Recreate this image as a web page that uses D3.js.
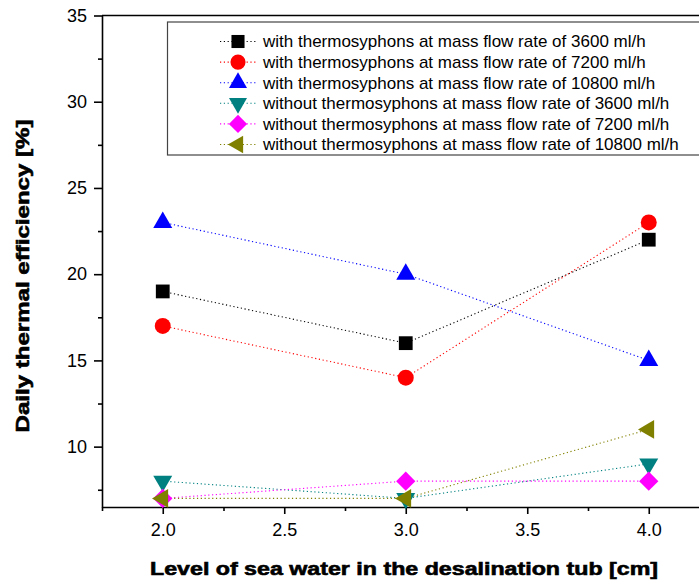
<!DOCTYPE html>
<meta charset="utf-8">
<title>Daily thermal efficiency</title>
<style>
  body { margin: 0; background: #fff; }
  text { font-family: Arial, "Liberation Sans", sans-serif; fill: #000; }
</style>
<svg width="699" height="582"></svg>
<script src="https://d3js.org/d3.v7.min.js"></script>
<script>

  // level of sea water in the tub [cm]
  var levels = [2.0, 3.0, 4.0];

  // daily thermal efficiency [%]
  var with3600 = [19, 16, 22];
  var with7200 = [17, 14, 23];
  var with10800 = [23, 20, 15];
  var without3600 = [8, 7, 9];
  var without7200 = [7, 8, 8];
  var without10800 = [7, 7, 11];

  var seriesNames = [
    "with thermosyphons at mass flow rate of 3600 ml/h",
    "with thermosyphons at mass flow rate of 7200 ml/h",
    "with thermosyphons at mass flow rate of 10800 ml/h",
    "without thermosyphons at mass flow rate of 3600 ml/h",
    "without thermosyphons at mass flow rate of 7200 ml/h",
    "without thermosyphons at mass flow rate of 10800 ml/h"
  ];
  var seriesColors = ["#000000", "#ff0000", "#0000ff", "#008080", "#ff00ff", "#808000"];

  var xTicks = [2.0, 2.5, 3.0, 3.5, 4.0];
  var xMinor = [1.75, 2.25, 2.75, 3.25, 3.75];
  var yTicks = [10, 15, 20, 25, 30, 35];
  var yMinor = [7.5, 12.5, 17.5, 22.5, 27.5, 32.5];

  var allValues = [with3600, with7200, with10800, without3600, without7200, without10800];

  // marker shape per series: symbol, rotation, area
  var shapes = [
    { sym: d3.symbolSquare, rot: 0, size: 190 },
    { sym: d3.symbolCircle, rot: 0, size: 200 },
    { sym: d3.symbolTriangle, rot: 0, size: 156 },
    { sym: d3.symbolTriangle, rot: 180, size: 156 },
    { sym: d3.symbolSquare, rot: 45, size: 185 },
    { sym: d3.symbolTriangle, rot: -90, size: 150 }
  ];

  var series = allValues.map(function(vals, i) {
    return {
      name: seriesNames[i],
      color: seriesColors[i],
      shape: shapes[i],
      points: vals.map(function(v, j) { return { x: levels[j], y: v }; })
    };
  });

  var svg = d3.select("svg");

  var plotLeft = 102, plotRight = 709.5, plotTop = 15.5, plotBottom = 507;

  var x = d3.scaleLinear().domain([1.75, 4.25]).range([plotLeft, plotRight]);
  var y = d3.scaleLinear().domain([6.5, 35]).range([plotBottom, plotTop]);

  // top frame line (right side falls outside the picture)
  svg.append("path")
    .attr("d", "M" + plotLeft + "," + plotTop + "H" + plotRight + "V" + plotBottom)
    .attr("fill", "none")
    .attr("stroke", "#000")
    .attr("stroke-width", 1.6);

  // axes
  svg.append("g")
    .attr("transform", "translate(" + plotLeft + ",0)")
    .call(d3.axisLeft(y).tickValues(yTicks).tickSize(8).tickSizeOuter(0).tickPadding(7).tickFormat(d3.format("d")));
  svg.append("g")
    .attr("transform", "translate(" + plotLeft + ",0)")
    .call(d3.axisLeft(y).tickValues(yMinor).tickSize(4).tickSizeOuter(0).tickFormat(""))
    .select(".domain").remove();

  svg.append("g")
    .attr("transform", "translate(0," + plotBottom + ")")
    .call(d3.axisBottom(x).tickValues(xTicks).tickSize(7).tickSizeOuter(0).tickPadding(9).tickFormat(d3.format(".1f")));
  svg.append("g")
    .attr("transform", "translate(0," + plotBottom + ")")
    .call(d3.axisBottom(x).tickValues(xMinor).tickSize(4).tickSizeOuter(0).tickFormat(""))
    .select(".domain").remove();

  svg.selectAll(".domain, .tick line").attr("stroke", "#000").attr("stroke-width", 1.6);
  svg.selectAll(".tick text")
    .attr("font-family", null)
    .attr("font-size", null)
    .style("font-family", "Arial, 'Liberation Sans', sans-serif")
    .style("font-size", "18px");

  // axis titles (heavy bold, a thin stroke thickens the glyphs)
  svg.append("text")
    .attr("x", 404)
    .attr("y", 575)
    .attr("text-anchor", "middle")
    .attr("textLength", 508)
    .attr("lengthAdjust", "spacingAndGlyphs")
    .attr("stroke", "#000")
    .attr("stroke-width", 0.6)
    .style("font-size", "18px")
    .style("font-weight", "bold")
    .text("Level of sea water in the desalination tub [cm]");

  svg.append("text")
    .attr("transform", "translate(29,276) rotate(-90)")
    .attr("text-anchor", "middle")
    .attr("textLength", 313)
    .attr("lengthAdjust", "spacingAndGlyphs")
    .attr("stroke", "#000")
    .attr("stroke-width", 0.6)
    .style("font-size", "18px")
    .style("font-weight", "bold")
    .text("Daily thermal efficiency [%]");

  // dotted connecting lines
  var line = d3.line()
    .x(function(d) { return x(d.x); })
    .y(function(d) { return y(d.y); });

  svg.append("g").selectAll("path")
    .data(series)
    .enter().append("path")
    .attr("d", function(d) { return line(d.points); })
    .attr("fill", "none")
    .attr("stroke", function(d) { return d.color; })
    .attr("stroke-width", 1.1)
    .attr("stroke-dasharray", "1.2,2.6");

  // markers
  series.forEach(function(s) {
    svg.append("g").selectAll("path")
      .data(s.points)
      .enter().append("path")
      .attr("d", d3.symbol().type(s.shape.sym).size(s.shape.size))
      .attr("transform", function(d) {
        return "translate(" + x(d.x) + "," + y(d.y) + ") rotate(" + s.shape.rot + ")";
      })
      .attr("fill", s.color);
  });

  // legend
  var legend = svg.append("g");
  legend.append("rect")
    .attr("x", 167.5)
    .attr("y", 22)
    .attr("width", 600)
    .attr("height", 133)
    .attr("fill", "#fff")
    .attr("stroke", "#444")
    .attr("stroke-width", 1.2);

  var rows = legend.selectAll("g.row")
    .data(series)
    .enter().append("g")
    .attr("class", "row")
    .attr("transform", function(d, i) { return "translate(0," + (41.5 + i * 20.6) + ")"; });

  rows.append("line")
    .attr("x1", 220).attr("x2", 258)
    .attr("stroke", function(d) { return d.color; })
    .attr("stroke-width", 1.1)
    .attr("stroke-dasharray", "1.2,2.6");

  rows.append("path")
    .attr("d", function(d) { return d3.symbol().type(d.shape.sym).size(d.shape.size * 0.9)(); })
    .attr("transform", function(d) { return "translate(238,0) rotate(" + d.shape.rot + ")"; })
    .attr("fill", function(d) { return d.color; });

  rows.append("text")
    .attr("x", 263)
    .attr("y", 5.8)
    .style("font-size", "17px")
    .text(function(d) { return d.name; });

</script>
